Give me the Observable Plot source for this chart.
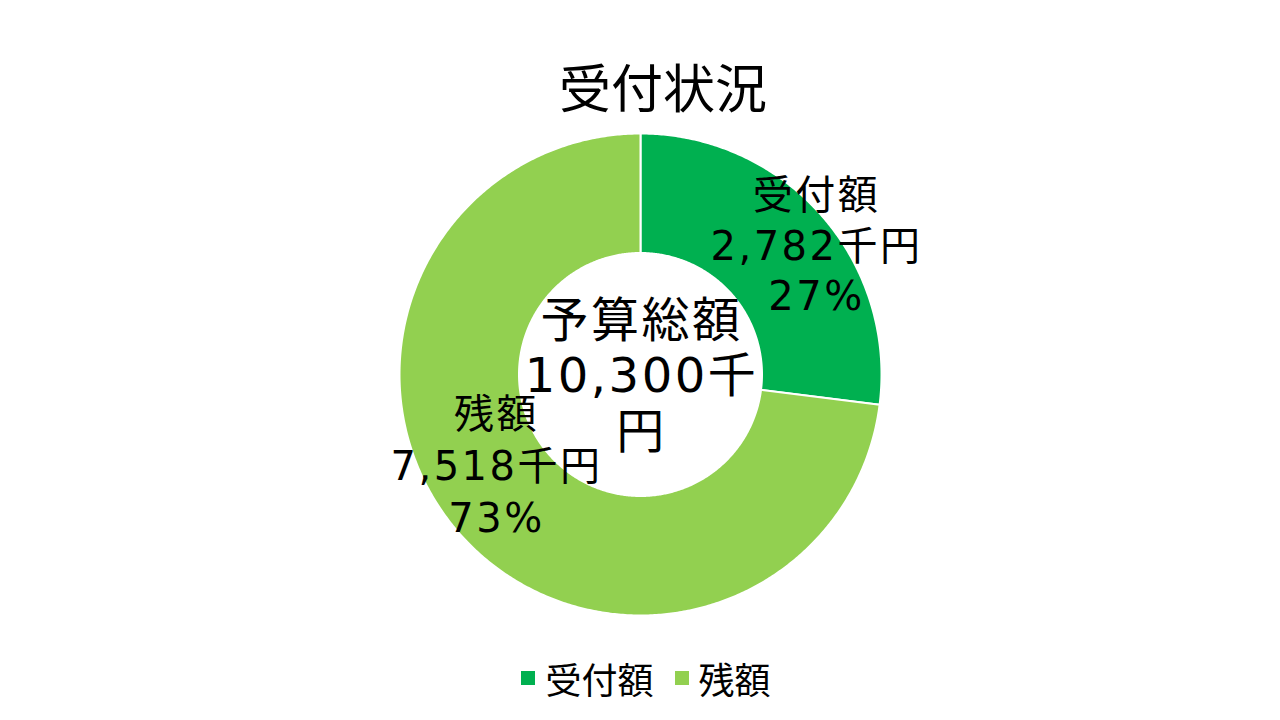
<!DOCTYPE html>
<html>
<head>
<meta charset="utf-8">
<script src="https://cdn.jsdelivr.net/npm/d3@7"></script>
<script src="https://cdn.jsdelivr.net/npm/@observablehq/plot@0.6"></script>
<style>
  html, body { margin: 0; padding: 0; background: #fff; }
  body { width: 1280px; height: 720px; overflow: hidden; font-family: "DejaVu Sans", "Noto Sans CJK JP", sans-serif; }
  #title { height: 130px; box-sizing: border-box; padding-top: 60px; padding-left: 46px; text-align: center; font-size: 52px; line-height: 52px; color: #000; font-family: "Noto Sans CJK JP", sans-serif; }
  #chart { height: 520px; }
  #chart svg text, #chart svg tspan { letter-spacing: 2.5px; }
  #legend { height: 56px; display: flex; justify-content: center; align-items: center; padding-left: 12px; font-family: "Noto Sans CJK JP", sans-serif; font-size: 36px; color: #000; }
  .sw { width: 14px; height: 14px; margin-right: 10px; }
  .item { display: flex; align-items: center; margin-right: 21px; }
  .item:last-child { margin-right: 0; }
</style>
</head>
<body>
<div id="title"></div>
<div id="chart"></div>
<div id="legend"></div>
<script>
// ---- data ----
const titleText = "受付状況";
const categories = ["受付額", "残額"];
const values = [2782, 7518];
const colors = ["#00B050", "#92D050"];
const centerLabel = "予算総額";
const unit = "千円";

// ---- derived ----
const total = d3.sum(values);
const fmt = d3.format(",");
const pie = d3.pie().sort(null).value(d => d.value);
const slices = pie(categories.map((c, i) => ({category: c, value: values[i]})));

const R = 241, r0 = 121.5;
const toXY = (a, rad) => [rad * Math.sin(a), rad * Math.cos(a)];

const poly = [];
for (const s of slices) {
  const n = Math.max(2, Math.ceil((s.endAngle - s.startAngle) / (Math.PI / 360)));
  const pts = [];
  for (let k = 0; k <= n; k++) {
    const a = s.startAngle + (s.endAngle - s.startAngle) * k / n;
    pts.push(toXY(a, R));
  }
  for (let k = n; k >= 0; k--) {
    const a = s.startAngle + (s.endAngle - s.startAngle) * k / n;
    pts.push(toXY(a, r0));
  }
  pts.push(pts[0]);
  for (const [x, y] of pts) poly.push({category: s.data.category, x, y});
}

const labels = slices.map(s => {
  const mid = (s.startAngle + s.endAngle) / 2;
  const [x, y] = toXY(mid, (R + r0) / 2);
  return {
    category: s.data.category, x, y,
    text: `${s.data.category}\n${fmt(s.data.value)}${unit}\n${Math.round(s.data.value / total * 100)}%`
  };
});

document.getElementById("title").textContent = titleText;

const font = '"DejaVu Sans", "Noto Sans CJK JP", sans-serif';

const chart = Plot.plot({
  width: 1280,
  height: 520,
  margin: 0,
  x: {domain: [-640, 640], axis: null},
  y: {domain: [-276, 244], axis: null},
  color: {domain: categories, range: colors},
  style: {fontFamily: font, background: "white"},
  marks: [
    Plot.line(poly, {x: "x", y: "y", z: "category", fill: "category", stroke: "white", strokeWidth: 2, curve: "linear"}),
    Plot.text(labels.filter(d => d.category === categories[0]), {
      x: "x", y: "y", text: "text", fontSize: 40, lineHeight: 1.26, dx: 40, dy: -11,
      fill: "black"
    }),
    Plot.text(labels.filter(d => d.category === categories[1]), {
      x: "x", y: "y", text: "text", fontSize: 40, lineHeight: 1.3, dx: -8, dy: -31,
      fill: "black"
    }),
    Plot.text([{x: 0, y: 0, text: `${centerLabel}\n${fmt(total)}千\n円`}], {
      x: "x", y: "y", text: "text", fontSize: 48, lineHeight: 1.16, dx: 1, dy: 0,
      fill: "black"
    })
  ]
});
document.getElementById("chart").appendChild(chart);

const legend = document.getElementById("legend");
categories.forEach((c, i) => {
  const item = document.createElement("div");
  item.className = "item";
  const sw = document.createElement("div");
  sw.className = "sw";
  sw.style.background = colors[i];
  const t = document.createElement("span");
  t.textContent = c;
  item.appendChild(sw);
  item.appendChild(t);
  legend.appendChild(item);
});
</script>
</body>
</html>
